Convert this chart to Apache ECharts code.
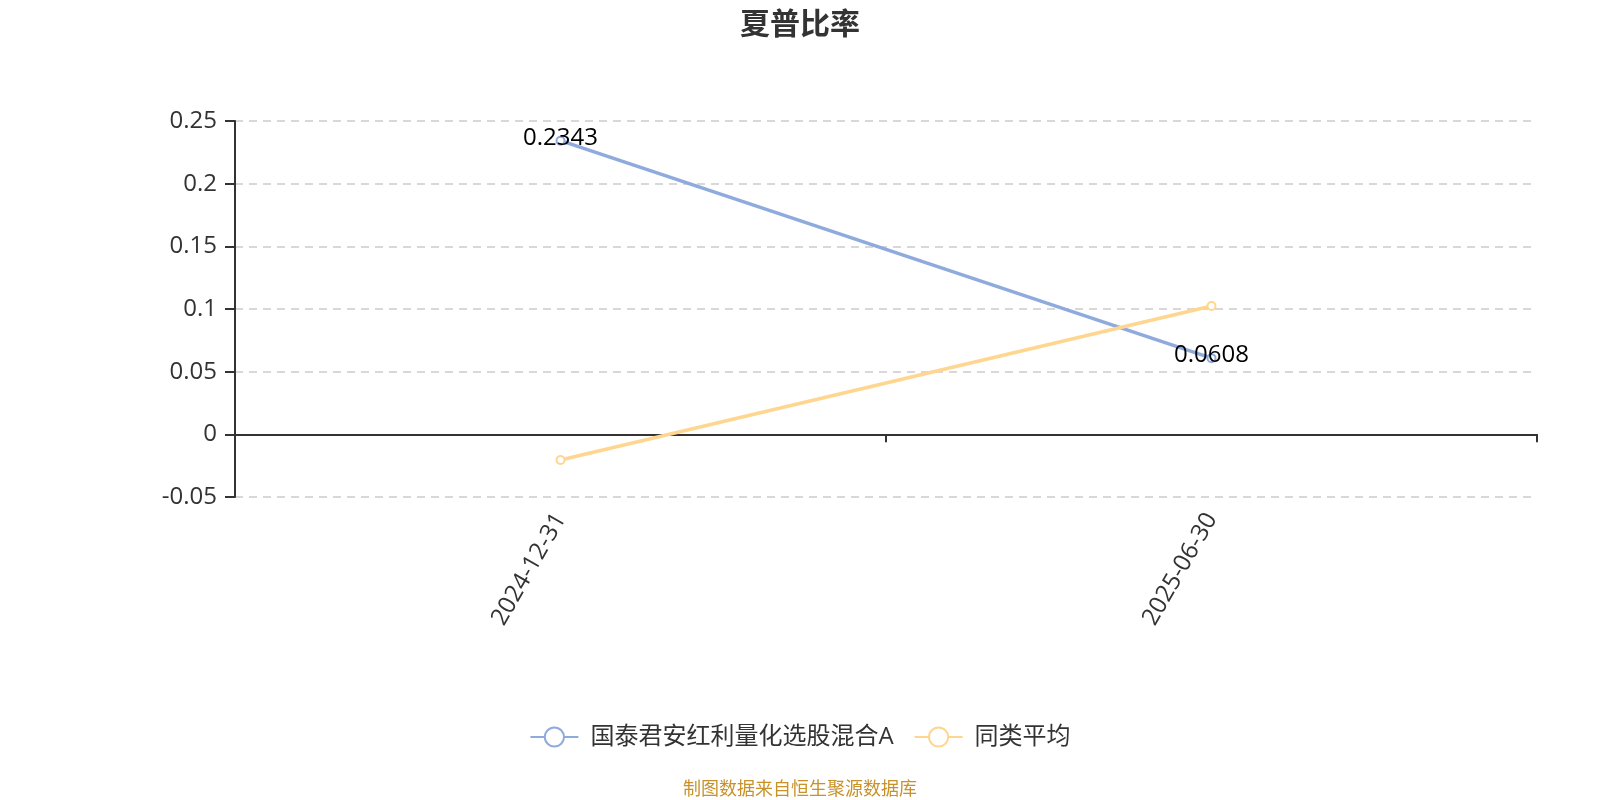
<!DOCTYPE html>
<html>
<head>
<meta charset="utf-8">
<script src="https://cdn.jsdelivr.net/npm/echarts@6/dist/echarts.min.js"></script>
<style>html,body{margin:0;padding:0;background:#fff}#c{width:1600px;height:800px}</style>
</head>
<body>
<div id="c"></div>
<script>
var categories = ['2024-12-31', '2025-06-30'];
var fundValues = [0.2343, 0.0608];
var avgValues = [-0.0205, 0.1024];
var seriesNames = ['国泰君安红利量化选股混合A', '同类平均'];
var yMin = -0.05, yMax = 0.25, yInterval = 0.05;

var font = '"Open Sans", "Noto Sans CJK SC", sans-serif';
var cjk = '"Noto Sans CJK SC", "Microsoft YaHei", sans-serif';
var chart = echarts.init(document.getElementById('c'));
chart.setOption({
  backgroundColor: '#fff',
  textStyle: { fontFamily: font },
  title: {
    text: '夏普比率', left: 'center', top: 3,
    textStyle: { fontSize: 30, fontWeight: 'bold', color: '#333', fontFamily: cjk }
  },
  graphic: [{
    type: 'text', left: 'center', top: 779,
    style: { text: '制图数据来自恒生聚源数据库', fill: '#C8922A', fontSize: 18, fontFamily: cjk }
  }],
  legend: {
    bottom: 46, left: 'center', itemWidth: 48, itemHeight: 24, itemGap: 20,
    textStyle: { fontSize: 24, color: '#333', fontFamily: font, padding: [0, 0, 0, 7] },
    data: seriesNames
  },
  grid: { left: 235, right: 63, top: 121, bottom: 303 },
  xAxis: {
    type: 'category', data: categories, boundaryGap: true,
    axisLine: { onZero: true, lineStyle: { color: '#333', width: 2 } },
    axisTick: { show: true, length: 8, lineStyle: { color: '#333', width: 2 } },
    axisLabel: { rotate: 60, margin: 18, fontSize: 24, color: '#333', fontFamily: font }
  },
  yAxis: {
    type: 'value', min: yMin, max: yMax, interval: yInterval,
    axisLine: { show: true, lineStyle: { color: '#333', width: 2 } },
    axisTick: { show: true, length: 10, lineStyle: { color: '#333', width: 2 } },
    axisLabel: { fontSize: 24, margin: 18, color: '#333', fontFamily: font },
    splitLine: { lineStyle: { type: [8, 6], color: '#ccc', width: 1.5 } }
  },
  series: [{
    name: seriesNames[0], type: 'line', data: fundValues,
    symbol: 'emptyCircle', symbolSize: 8,
    itemStyle: { color: '#8FAADC' },
    lineStyle: { width: 3.5, color: '#8FAADC' },
    label: { show: true, position: 'inside', offset: [0, -3], fontSize: 24, color: '#000', fontFamily: font }
  }, {
    name: seriesNames[1], type: 'line', data: avgValues,
    symbol: 'emptyCircle', symbolSize: 8,
    itemStyle: { color: '#FFD68F' },
    lineStyle: { width: 3.5, color: '#FFD68F' }
  }]
});
</script>
</body>
</html>
